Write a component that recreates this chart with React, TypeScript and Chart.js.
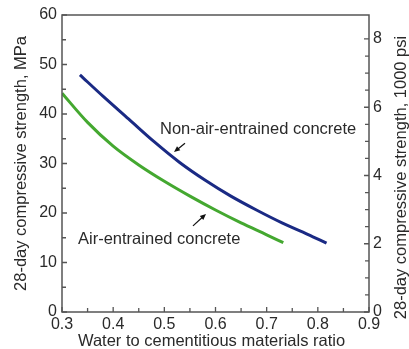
import React, { useEffect, useRef } from 'react';
import { Chart, registerables } from 'chart.js';

Chart.register(...registerables);

// Data (w/cm ratio vs 28-day strength, MPa)
const nonAirX = [0.335, 0.38, 0.43, 0.48, 0.53, 0.58, 0.63, 0.68, 0.73, 0.78, 0.817];
const nonAirY = [47.9, 43.6, 39.0, 34.4, 30.2, 26.6, 23.4, 20.6, 18.0, 15.7, 13.9];
const airX = [0.3, 0.35, 0.4, 0.45, 0.5, 0.55, 0.6, 0.65, 0.7, 0.7325];
const airY = [44.2, 38.3, 33.5, 29.7, 26.4, 23.4, 20.6, 18.0, 15.6, 14.0];

const seriesNames = ['Non-air-entrained concrete', 'Air-entrained concrete'];
const xTitle = 'Water to cementitious materials ratio';
const yTitle = '28-day compressive strength, MPa';
const y2Title = '28-day compressive strength, 1000 psi';
const MPA_TO_KSI = 0.145038;

// annotation anchors in data units: [textX, textY, arrowTailX, arrowTailY, arrowHeadX, arrowHeadY]
const nonAirNote = [0.4915, 36.8, 0.5404, 34.1, 0.5189, 32.3];
const airNote = [0.3313, 14.7, 0.556, 17.4, 0.5814, 19.8];

const FONT = "'Liberation Sans', Arial, Helvetica, sans-serif";
const TEXT = '#2a2a2a';
const AXIS = '#555555';

const decorPlugin = {
  id: 'decor',
  afterDraw(chart: any) {
    const { ctx, chartArea: a } = chart;
    const sx = chart.scales.x;
    const sy = chart.scales.y;
    const sy2 = chart.scales.y2;
    ctx.save();
    // frame
    ctx.strokeStyle = AXIS;
    ctx.lineWidth = 1.5;
    ctx.strokeRect(a.left, a.top, a.right - a.left, a.bottom - a.top);
    // inward ticks
    ctx.lineWidth = 1.3;
    ctx.beginPath();
    sx.ticks.forEach((t: any) => {
      const r = Math.round(t.value * 100);
      if (Math.abs(t.value * 100 - r) > 1e-6 || r % 5 !== 0) return;
      const len = r % 10 === 0 ? 5 : 4;
      const px = sx.getPixelForValue(t.value);
      ctx.moveTo(px, a.bottom);
      ctx.lineTo(px, a.bottom - len);
    });
    sy.ticks.forEach((t: any) => {
      if (t.value % 5 !== 0) return;
      const len = t.value % 10 === 0 ? 5 : 4;
      const py = sy.getPixelForValue(t.value);
      ctx.moveTo(a.left, py);
      ctx.lineTo(a.left + len, py);
    });
    sy2.ticks.forEach((t: any) => {
      const h = Math.round(t.value * 2);
      if (Math.abs(t.value * 2 - h) > 1e-6) return;
      const len = h % 4 === 0 ? 5 : 4;
      const py = sy2.getPixelForValue(t.value);
      ctx.moveTo(a.right, py);
      ctx.lineTo(a.right - len, py);
    });
    ctx.stroke();

    // axis titles
    ctx.fillStyle = TEXT;
    ctx.font = `16.5px ${FONT}`;
    ctx.textAlign = 'center';
    ctx.textBaseline = 'middle';
    ctx.fillText(xTitle, (a.left + a.right) / 2 - 4, 341);
    ctx.save();
    ctx.translate(21, (a.top + a.bottom) / 2);
    ctx.rotate(-Math.PI / 2);
    ctx.fillText(yTitle, 0, 0);
    ctx.restore();
    ctx.save();
    ctx.translate(401, (a.top + a.bottom) / 2 + 14);
    ctx.rotate(-Math.PI / 2);
    ctx.fillText(y2Title, 0, 0);
    ctx.restore();

    // annotations
    const note = (txt: string, n: number[]) => {
      ctx.textAlign = 'left';
      ctx.textBaseline = 'middle';
      ctx.fillStyle = TEXT;
      ctx.fillText(txt, sx.getPixelForValue(n[0]), sy.getPixelForValue(n[1]));
      const tx = sx.getPixelForValue(n[2]);
      const ty = sy.getPixelForValue(n[3]);
      const hx = sx.getPixelForValue(n[4]);
      const hy = sy.getPixelForValue(n[5]);
      const ang = Math.atan2(hy - ty, hx - tx);
      ctx.strokeStyle = '#111';
      ctx.lineWidth = 1.2;
      ctx.beginPath();
      ctx.moveTo(tx, ty);
      ctx.lineTo(hx - 3 * Math.cos(ang), hy - 3 * Math.sin(ang));
      ctx.stroke();
      ctx.fillStyle = '#111';
      ctx.beginPath();
      ctx.moveTo(hx, hy);
      ctx.lineTo(hx - 6 * Math.cos(ang) + 2.6 * Math.sin(ang), hy - 6 * Math.sin(ang) - 2.6 * Math.cos(ang));
      ctx.lineTo(hx - 6 * Math.cos(ang) - 2.6 * Math.sin(ang), hy - 6 * Math.sin(ang) + 2.6 * Math.cos(ang));
      ctx.closePath();
      ctx.fill();
    };
    note(seriesNames[0], nonAirNote);
    note(seriesNames[1], airNote);
    ctx.restore();
  },
};

export default function App() {
  const ref = useRef<HTMLCanvasElement | null>(null);
  useEffect(() => {
    document.body.style.margin = '0';
    const canvas = ref.current;
    if (!canvas) return;
    const tickFont = { family: FONT, size: 16 };
    const chart = new Chart(canvas, {
      type: 'scatter',
      data: {
        datasets: [
          {
            label: seriesNames[0],
            data: nonAirX.map((x, i) => ({ x, y: nonAirY[i] })),
            showLine: true,
            borderColor: '#1a2a84',
            borderWidth: 3,
            pointRadius: 0,
            cubicInterpolationMode: 'monotone',
            yAxisID: 'y',
          },
          {
            label: seriesNames[1],
            data: airX.map((x, i) => ({ x, y: airY[i] })),
            showLine: true,
            borderColor: '#44a830',
            borderWidth: 3,
            pointRadius: 0,
            cubicInterpolationMode: 'monotone',
            yAxisID: 'y',
          },
        ],
      },
      options: {
        responsive: false,
        animation: false,
        devicePixelRatio: 1,
        layout: { padding: { top: 15, left: 0, right: 0, bottom: 0 } },
        plugins: { legend: { display: false }, tooltip: { enabled: false } },
        scales: {
          x: {
            type: 'linear',
            min: 0.3,
            max: 0.9,
            grid: { display: false, drawTicks: false },
            border: { display: false },
            ticks: {
              stepSize: 0.05,
              autoSkip: false,
              maxRotation: 0,
              padding: 3,
              color: TEXT,
              font: tickFont,
              callback: (v: any) => {
                const r = Math.round(Number(v) * 100);
                return r % 10 === 0 ? (r / 100).toFixed(1) : '';
              },
            },
            afterFit: (s: any) => { s.height = 37; },
          },
          y: {
            type: 'linear',
            position: 'left',
            min: 0,
            max: 60,
            grid: { display: false, drawTicks: false },
            border: { display: false },
            ticks: {
              stepSize: 5,
              autoSkip: false,
              padding: 5,
              color: TEXT,
              font: tickFont,
              callback: (v: any) => (Number(v) % 10 === 0 ? String(v) : ''),
            },
            afterFit: (s: any) => { s.width = 62; },
          },
          y2: {
            type: 'linear',
            position: 'right',
            min: 0,
            max: 60 * MPA_TO_KSI,
            grid: { display: false, drawTicks: false },
            border: { display: false },
            ticks: {
              stepSize: 0.5,
              autoSkip: false,
              padding: 4,
              color: TEXT,
              font: tickFont,
              callback: (v: any) => {
                const n = Number(v);
                return Math.abs(n - Math.round(n)) < 1e-6 && Math.round(n) % 2 === 0 ? String(Math.round(n)) : '';
              },
            },
            afterFit: (s: any) => { s.width = 40; },
          },
        },
      },
      plugins: [decorPlugin],
    } as any);
    return () => chart.destroy();
  }, []);
  return <canvas ref={ref} width={409} height={349} style={{ display: 'block' }} />;
}
